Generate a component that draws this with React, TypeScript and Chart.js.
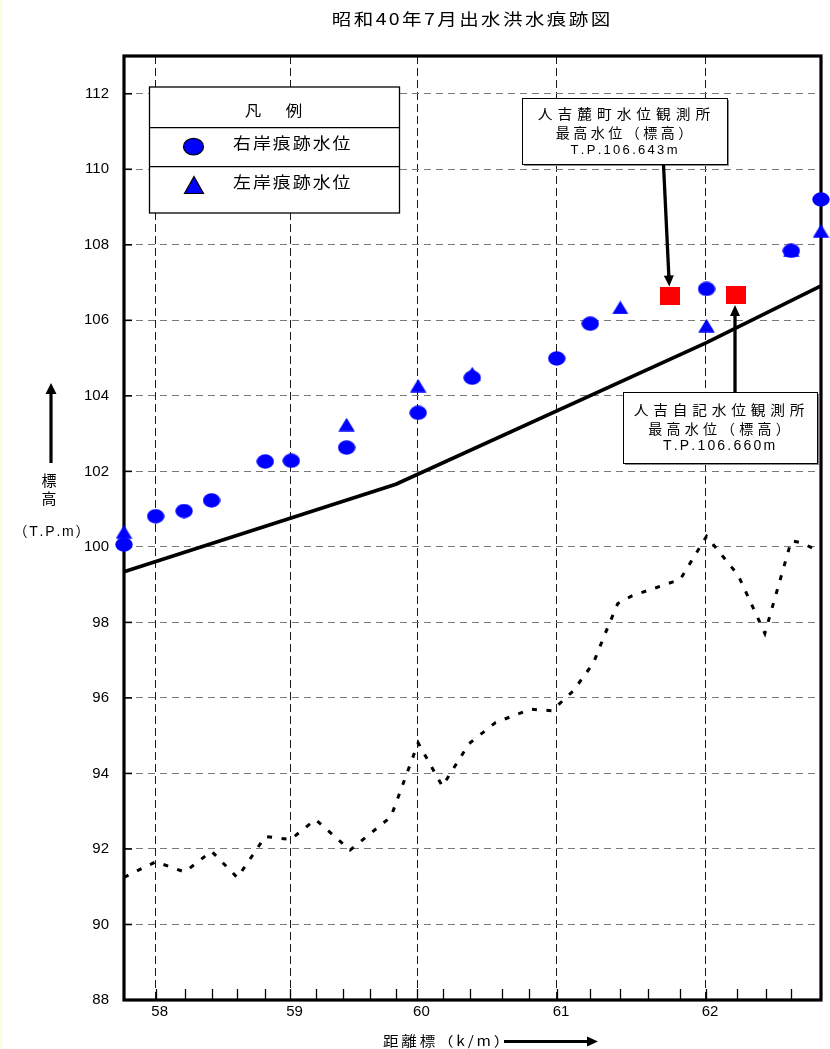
import React, { useEffect, useRef } from 'react';
import { Chart, registerables } from 'chart.js';

Chart.register(...registerables);

// ---------- texts ----------
const CHART_TITLE = '昭和40年7月出水洪水痕跡図';
const X_TITLE = '距離標（k/m）';
const Y_TITLE_CHARS = ['標', '高'];
const Y_UNIT = '（T.P.m）';
const LEGEND_TITLE = '凡　例';
const RIGHT_BANK_NAME = '右岸痕跡水位';
const LEFT_BANK_NAME = '左岸痕跡水位';
const GAUGE1_LINES = ['人吉麓町水位観測所', '最高水位（標高）', 'T.P.106.643m'];
const GAUGE2_LINES = ['人吉自記水位観測所', '最高水位（標高）', 'T.P.106.660m'];

// ---------- axes ----------
const X_MIN = 57.77;
const X_MAX = 62.836;
const Y_MIN = 88;
const Y_MAX = 113;
const yTickValues = [88, 90, 92, 94, 96, 98, 100, 102, 104, 106, 108, 110, 112];

// distance markers (every 200 m), position along the channel in km
const markerKm = [
  58.0, 58.212, 58.406, 58.594, 58.797, 58.98, 59.162, 59.359, 59.56, 59.746,
  59.903, 60.091, 60.285, 60.514, 60.712, 60.917, 61.159, 61.377, 61.582, 61.812,
  62.0, 62.229, 62.435, 62.62,
];
const markerLabels = [
  '58', '', '', '', '', '59', '', '', '', '',
  '60', '', '', '', '', '61', '', '', '', '',
  '62', '', '', '',
];

// ---------- data ----------
const rightBankKm = [57.77, 58.0, 58.207, 58.406, 58.797, 58.986, 59.388, 59.908, 60.301, 60.915, 61.159, 62.004, 62.62, 62.836];
const rightBankLevel = [100.06, 100.81, 100.95, 101.23, 102.26, 102.28, 102.63, 103.55, 104.48, 104.99, 105.91, 106.83, 107.84, 109.2];

const leftBankKm = [57.77, 59.388, 59.908, 60.301, 61.377, 62.004, 62.62, 62.836];
const leftBankLevel = [100.4, 103.24, 104.27, 104.59, 106.34, 105.86, 107.86, 108.37];

const gaugeKm = [61.741, 62.221];
const gaugeLevel = [106.643, 106.66];

const solidLineKm = [57.77, 59.746, 62.0, 62.836];
const solidLineLevel = [99.34, 101.66, 105.4, 106.91];

const bedKm = [
  57.77, 58.0, 58.212, 58.406, 58.594, 58.797, 58.98, 59.162, 59.413, 59.71,
  59.908, 60.084, 60.278, 60.471, 60.725, 60.881, 61.036, 61.181, 61.268, 61.359,
  61.461, 61.813, 62.004, 62.234, 62.428, 62.62, 62.693, 62.836,
];
const bedLevel = [
  91.25, 91.66, 91.39, 91.94, 91.24, 92.33, 92.25, 92.78, 91.97, 92.85,
  94.81, 93.66, 94.79, 95.35, 95.7, 95.66, 96.19, 96.92, 97.71, 98.5,
  98.7, 99.14, 100.28, 99.25, 97.71, 100.16, 100.11, 99.86,
];

// ---------- styles ----------
const BLUE = '#0000ff';
const RED = '#ff0000';
const JP_FONT = '"Noto Sans CJK JP", "Noto Sans", sans-serif';
const LAT_FONT = '"Liberation Sans", Arial, "Noto Sans CJK JP", sans-serif';

type TextOpts = {
  size: number;
  family?: string;
  sx?: number;
  spacing?: number;
  align?: 'left' | 'center' | 'right';
  color?: string;
  weight?: string;
};

function drawText(ctx: CanvasRenderingContext2D, text: string, x: number, y: number, o: TextOpts) {
  const sx = o.sx ?? 1;
  const sp = o.spacing ?? 0;
  ctx.save();
  ctx.font = `${o.weight ?? 'normal'} ${o.size}px ${o.family ?? JP_FONT}`;
  ctx.fillStyle = o.color ?? '#000';
  ctx.textBaseline = 'middle';
  ctx.textAlign = 'left';
  const chars = Array.from(text);
  const widths = chars.map((c) => ctx.measureText(c).width * sx);
  const total = widths.reduce((a, b) => a + b, 0) + sp * (chars.length - 1);
  let cx = o.align === 'center' ? x - total / 2 : o.align === 'right' ? x - total : x;
  chars.forEach((c, i) => {
    ctx.save();
    ctx.translate(cx, y);
    ctx.scale(sx, 1);
    ctx.fillText(c, 0, 0);
    ctx.restore();
    cx += widths[i] + sp;
  });
  ctx.restore();
}

function drawArrow(ctx: CanvasRenderingContext2D, x1: number, y1: number, x2: number, y2: number, width: number, headLen: number, headW: number) {
  const ang = Math.atan2(y2 - y1, x2 - x1);
  const c = Math.cos(ang);
  const s = Math.sin(ang);
  const bx = x2 - headLen * c;
  const by = y2 - headLen * s;
  ctx.save();
  ctx.strokeStyle = '#000';
  ctx.fillStyle = '#000';
  ctx.lineWidth = width;
  ctx.beginPath();
  ctx.moveTo(x1, y1);
  ctx.lineTo(bx + c, by + s);
  ctx.stroke();
  ctx.beginPath();
  ctx.moveTo(x2, y2);
  ctx.lineTo(bx - (headW / 2) * s, by + (headW / 2) * c);
  ctx.lineTo(bx + (headW / 2) * s, by - (headW / 2) * c);
  ctx.closePath();
  ctx.fill();
  ctx.restore();
}

function calloutBox(ctx: CanvasRenderingContext2D, x: number, y: number, w: number, h: number) {
  ctx.save();
  ctx.fillStyle = '#8a8a8a';
  ctx.fillRect(x + 2, y + 2, w, h);
  ctx.fillStyle = '#fff';
  ctx.fillRect(x, y, w, h);
  ctx.strokeStyle = '#000';
  ctx.lineWidth = 1;
  ctx.strokeRect(x + 0.5, y + 0.5, w, h);
  ctx.restore();
}

function makeShape(kind: 'ellipse' | 'triangle' | 'rect', w: number, h: number, fill: string): HTMLCanvasElement {
  const c = document.createElement('canvas');
  c.width = w;
  c.height = h;
  const g = c.getContext('2d')!;
  g.fillStyle = fill;
  g.beginPath();
  if (kind === 'ellipse') {
    g.ellipse(w / 2, h / 2, w / 2 - 0.3, h / 2 - 0.3, 0, 0, Math.PI * 2);
  } else if (kind === 'triangle') {
    g.moveTo(w / 2, 0.3);
    g.lineTo(w - 0.3, h - 0.3);
    g.lineTo(0.3, h - 0.3);
    g.closePath();
  } else {
    g.rect(0, 0, w, h);
  }
  g.fill();
  return c;
}

const backgroundPlugin = {
  id: 'paper',
  beforeDraw(chart: any) {
    const ctx = chart.ctx as CanvasRenderingContext2D;
    ctx.save();
    ctx.fillStyle = '#ffffff';
    ctx.fillRect(0, 0, chart.width, chart.height);
    ctx.fillStyle = '#fdfde2';
    ctx.fillRect(0, 0, 2, chart.height);
    ctx.restore();
  },
};

const framePlugin = {
  id: 'frame',
  beforeDatasetsDraw(chart: any) {
    const ctx = chart.ctx as CanvasRenderingContext2D;
    const { left, right, top, bottom } = chart.chartArea;
    const xs = chart.scales.x;
    const ys = chart.scales.y;
    ctx.save();
    ctx.strokeStyle = '#000';
    // inward minor ticks on the distance axis
    ctx.lineWidth = 1.3;
    markerKm.forEach((v) => {
      const px = Math.round(xs.getPixelForValue(v)) + 0.5;
      ctx.beginPath();
      ctx.moveTo(px, bottom);
      ctx.lineTo(px, bottom - 11);
      ctx.stroke();
    });
    // inward ticks on the level axis
    ctx.lineWidth = 1.6;
    yTickValues.forEach((v) => {
      const py = ys.getPixelForValue(v);
      ctx.beginPath();
      ctx.moveTo(left, py);
      ctx.lineTo(left + 8, py);
      ctx.stroke();
    });
    // thick frame
    ctx.lineWidth = 3.2;
    ctx.strokeRect(left, top, right - left, bottom - top);
    ctx.restore();
  },
};

const overlayPlugin = {
  id: 'overlay',
  afterDatasetsDraw(chart: any) {
    const ctx = chart.ctx as CanvasRenderingContext2D;
    const xs = chart.scales.x;
    const ys = chart.scales.y;

    // chart title
    drawText(ctx, CHART_TITLE, 471, 18.5, { size: 16, sx: 1.22, spacing: 2.4, align: 'center' });

    // legend box
    ctx.save();
    ctx.fillStyle = '#fff';
    ctx.fillRect(149.5, 87, 250, 126);
    ctx.strokeStyle = '#000';
    ctx.lineWidth = 1.3;
    ctx.strokeRect(149.5, 87, 250, 126);
    ctx.beginPath();
    ctx.moveTo(149.5, 127.7);
    ctx.lineTo(399.5, 127.7);
    ctx.moveTo(149.5, 166.7);
    ctx.lineTo(399.5, 166.7);
    ctx.stroke();
    // legend symbols
    ctx.fillStyle = BLUE;
    ctx.lineWidth = 1.2;
    ctx.beginPath();
    ctx.ellipse(193.5, 146.7, 10, 8.3, 0, 0, Math.PI * 2);
    ctx.fill();
    ctx.stroke();
    ctx.beginPath();
    ctx.moveTo(194, 176.5);
    ctx.lineTo(203.5, 193.5);
    ctx.lineTo(184.5, 193.5);
    ctx.closePath();
    ctx.fill();
    ctx.stroke();
    ctx.restore();
    drawText(ctx, LEGEND_TITLE, 273.5, 110, { size: 15, sx: 1.1, spacing: 4, align: 'center' });
    drawText(ctx, RIGHT_BANK_NAME, 233, 143, { size: 16, sx: 1.12, spacing: 2, align: 'left' });
    drawText(ctx, LEFT_BANK_NAME, 233, 182, { size: 16, sx: 1.12, spacing: 2, align: 'left' });

    // gauge callouts
    const g1x = xs.getPixelForValue(gaugeKm[0]);
    const g1y = ys.getPixelForValue(gaugeLevel[0]);
    const g2y = ys.getPixelForValue(gaugeLevel[1]);

    calloutBox(ctx, 522, 98, 205, 66);
    drawText(ctx, GAUGE1_LINES[0], 624, 114, { size: 14, sx: 1.05, spacing: 5, align: 'center' });
    drawText(ctx, GAUGE1_LINES[1], 624, 132.5, { size: 14, sx: 1.0, spacing: 3.5, align: 'center' });
    drawText(ctx, GAUGE1_LINES[2], 624, 150.5, { size: 13, family: LAT_FONT, spacing: 2.3, align: 'center' });
    drawArrow(ctx, 663.5, 164.5, g1x - 1, g1y - 9.5, 3.3, 11, 10);

    calloutBox(ctx, 623, 392, 194, 71);
    drawText(ctx, GAUGE2_LINES[0], 719, 409.5, { size: 14, sx: 1.05, spacing: 4.8, align: 'center' });
    drawText(ctx, GAUGE2_LINES[1], 719, 429, { size: 14, sx: 1.0, spacing: 4.2, align: 'center' });
    drawText(ctx, GAUGE2_LINES[2], 719, 446, { size: 14, family: LAT_FONT, spacing: 2.2, align: 'center' });
    drawArrow(ctx, 735, 392, 735, g2y + 9.5, 3.3, 11, 10);

    // y axis title
    drawArrow(ctx, 51, 463, 51, 383, 3.2, 11, 11);
    drawText(ctx, Y_TITLE_CHARS[0], 49, 480, { size: 15, align: 'center' });
    drawText(ctx, Y_TITLE_CHARS[1], 49, 498.5, { size: 15, align: 'center' });
    drawText(ctx, Y_UNIT, 51.5, 532, { size: 14, family: LAT_FONT, spacing: 1.8, align: 'center' });

    // x axis title
    drawText(ctx, X_TITLE, 383, 1041, { size: 13.5, sx: 1.15, spacing: 2.8, align: 'left' });
    drawArrow(ctx, 504, 1041.5, 598, 1041.5, 3.2, 11, 10);
  },
};

export default function App() {
  const ref = useRef<HTMLCanvasElement | null>(null);

  useEffect(() => {
    const canvas = ref.current;
    if (!canvas) return;
    const circleImg = makeShape('ellipse', 18, 15, BLUE);
    const triImg = makeShape('triangle', 17, 14, BLUE);
    const squareImg = makeShape('rect', 20, 18, RED);

    const toXY = (xs: number[], ys: number[]) => xs.map((x, i) => ({ x, y: ys[i] }));

    const chart = new Chart(canvas, {
      type: 'scatter',
      data: {
        datasets: [
          {
            label: RIGHT_BANK_NAME,
            data: toXY(rightBankKm, rightBankLevel),
            pointStyle: circleImg as any,
            pointRadius: 8,
            backgroundColor: BLUE,
            borderColor: BLUE,
            borderWidth: 0,
            order: 0,
            clip: false as any,
          },
          {
            label: LEFT_BANK_NAME,
            data: toXY(leftBankKm, leftBankLevel),
            pointStyle: triImg as any,
            pointRadius: 8,
            backgroundColor: BLUE,
            borderColor: BLUE,
            borderWidth: 0,
            order: 1,
            clip: false as any,
          },
          {
            label: '最高水位',
            data: toXY(gaugeKm, gaugeLevel),
            pointStyle: squareImg as any,
            pointRadius: 9,
            backgroundColor: RED,
            borderColor: RED,
            borderWidth: 0,
            order: 2,
            clip: false as any,
          },
          {
            label: '実線',
            data: toXY(solidLineKm, solidLineLevel),
            showLine: true,
            borderColor: '#000',
            borderWidth: 3.6,
            pointRadius: 0,
            tension: 0,
            order: 3,
            clip: false as any,
          },
          {
            label: '最深河床高',
            data: toXY(bedKm, bedLevel),
            showLine: true,
            borderColor: '#000',
            borderWidth: 3,
            borderDash: [5, 9.5],
            borderCapStyle: 'butt',
            pointRadius: 0,
            tension: 0,
            order: 4,
            clip: false as any,
          },
        ],
      },
      options: {
        responsive: false,
        animation: false,
        devicePixelRatio: 1,
        events: [],
        layout: { padding: { top: 56, right: 7, bottom: 0, left: 0 } },
        plugins: {
          legend: { display: false },
          tooltip: { enabled: false },
          title: { display: false },
        },
        scales: {
          x: {
            type: 'linear',
            min: X_MIN,
            max: X_MAX,
            bounds: 'data',
            afterBuildTicks: (s: any) => {
              s.ticks = markerKm.map((v) => ({ value: v }));
            },
            afterFit: (s: any) => {
              s.height = 49;
            },
            ticks: {
              autoSkip: false,
              maxRotation: 0,
              minRotation: 0,
              padding: 3,
              labelOffset: 4,
              color: '#000',
              font: { family: LAT_FONT, size: 15 },
              callback: (_v: any, i: number) => markerLabels[i] ?? '',
            },
            grid: {
              drawTicks: false,
              lineWidth: 1,
              color: (c: any) => (markerLabels[c.index] ? '#1a1a1a' : 'rgba(0,0,0,0)'),
              borderDash: [8, 4],
            } as any,
            border: { display: false, dash: [8, 4] },
          },
          y: {
            type: 'linear',
            min: Y_MIN,
            max: Y_MAX,
            bounds: 'data',
            afterBuildTicks: (s: any) => {
              s.ticks = yTickValues.map((v) => ({ value: v }));
            },
            afterFit: (s: any) => {
              s.width = 124;
            },
            ticks: {
              padding: 15,
              color: '#000',
              font: { family: LAT_FONT, size: 15 },
              callback: (v: any) => String(v),
            },
            grid: {
              drawTicks: false,
              lineWidth: 1,
              color: '#7a7a7a',
              borderDash: [7, 5],
            } as any,
            border: { display: false, dash: [7, 5] },
          },
        },
      },
      plugins: [backgroundPlugin, framePlugin, overlayPlugin],
    });

    return () => {
      chart.destroy();
    };
  }, []);

  return (
    <div style={{ position: 'absolute', left: 0, top: 0, width: 830, height: 1049, background: '#fff' }}>
      <canvas ref={ref} width={830} height={1049} style={{ display: 'block', width: 830, height: 1049 }} />
    </div>
  );
}
